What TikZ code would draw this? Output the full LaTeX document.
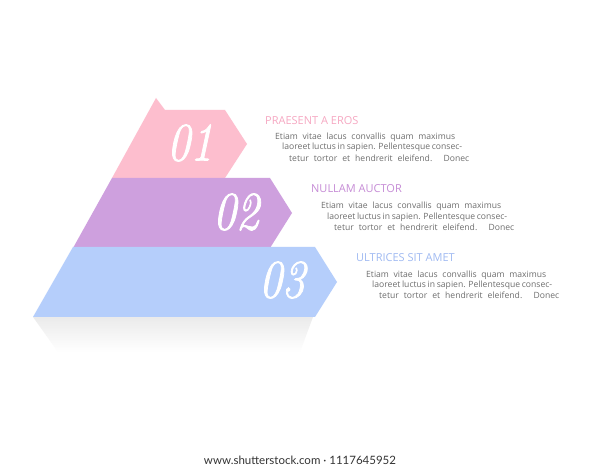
\documentclass[tikz,border=0pt]{standalone}
\usepackage{fontspec}
\setmainfont{Open Sans}
\newfontfamily\numfont[FakeBold=1.6]{Latin Modern Roman}
\newfontfamily\footfont{Lato}
\definecolor{pinkband}{RGB}{253,190,206}
\definecolor{purpleband}{RGB}{206,160,222}
\definecolor{blueband}{RGB}{181,206,251}
\definecolor{pinktitle}{RGB}{246,168,194}
\definecolor{purpletitle}{RGB}{198,140,214}
\definecolor{bluetitle}{RGB}{160,186,242}
\definecolor{bodygray}{RGB}{110,110,110}
\tikzset{
  numlabel/.style={text=white, font=\numfont\itshape\fontsize{54}{54}\selectfont, inner sep=0pt},
  titletext/.style={anchor=west, inner sep=0pt, font=\fontsize{11}{13}\selectfont},
  bodyline/.style={anchor=west, inner sep=0pt, text=bodygray, font=\fontsize{8.6}{10}\selectfont},
}
\newcommand{\jline}[1]{\makebox[180pt][s]{#1}}
\begin{document}
\begin{tikzpicture}[x=1pt,y=-1pt]
\useasboundingbox[fill=white] (0,0) rectangle (600,470);
% shadow
\shade[top color=black!8, bottom color=white] (33,317) -- (313,317) -- (300,352) -- (58,352) -- cycle;
% bands
\fill[pinkband] (156,98) -- (165,110) -- (225,110) -- (247,144) -- (225,178) -- (112,178) -- cycle;
\fill[purpleband] (112,178) -- (270,178) -- (292,213) -- (270,248) -- (73,248) -- cycle;
\fill[blueband] (73,247) -- (315,247) -- (337,282) -- (315,317) -- (33,317) -- cycle;
% numbers
\node[numlabel] (n1) at (190,143) {\scalebox{0.85}[1]{01}};
\node[numlabel] (n2) at (236,212) {\scalebox{0.85}[1]{02}};
\node[numlabel] (n3) at (282,280) {\scalebox{0.85}[1]{03}};
% texts 1
\node[titletext, text=pinktitle] (t1) at (265,120.5) {PRAESENT A EROS};
\node[bodyline] (b11) at (275,137) {\jline{Etiam vitae lacus convallis quam maximus}};
\node[bodyline] (b12) at (282,147.5) {\jline{laoreet luctus in sapien. Pellentesque consec-}};
\node[bodyline] (b13) at (289,158) {\jline{tetur tortor et hendrerit eleifend. Donec}};
% texts 2
\node[titletext, text=purpletitle] (t2) at (311,189) {NULLAM AUCTOR};
\node[bodyline] (b21) at (321,206.5) {\jline{Etiam vitae lacus convallis quam maximus}};
\node[bodyline] (b22) at (327,217) {\jline{laoreet luctus in sapien. Pellentesque consec-}};
\node[bodyline] (b23) at (334,227) {\jline{tetur tortor et hendrerit eleifend. Donec}};
% texts 3
\node[titletext, text=bluetitle] (t3) at (356,258) {ULTRICES SIT AMET};
\node[bodyline] (b31) at (366,275.5) {\jline{Etiam vitae lacus convallis quam maximus}};
\node[bodyline] (b32) at (372,285) {\jline{laoreet luctus in sapien. Pellentesque consec-}};
\node[bodyline] (b33) at (379,295) {\jline{tetur tortor et hendrerit eleifend. Donec}};
% footer
\node[inner sep=0pt, text=black!80, font=\footfont\fontsize{11.5}{13}\selectfont] (foot) at (300,460) {www.shutterstock.com · 1117645952};
\end{tikzpicture}
\end{document}
